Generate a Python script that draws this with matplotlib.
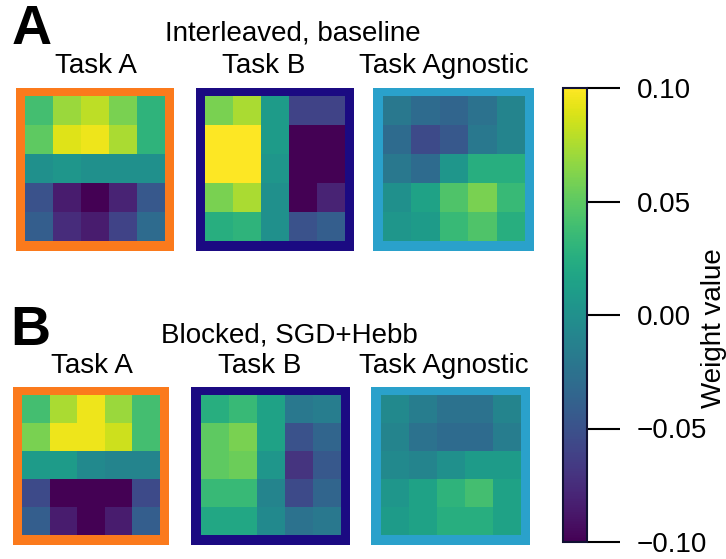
import numpy as np
import matplotlib
matplotlib.use("Agg")
import matplotlib.pyplot as plt

plt.rcParams["font.family"] = ["Liberation Sans", "DejaVu Sans"]

# Weight maps (5x5)
interleaved_task_a = [
    [0.040, 0.070, 0.080, 0.060, 0.030],
    [0.050, 0.090, 0.095, 0.075, 0.030],
    [0.000, 0.005, 0.000, 0.000, 0.000],
    [-0.050, -0.085, -0.100, -0.080, -0.045],
    [-0.040, -0.075, -0.085, -0.060, -0.030],
]
interleaved_task_b = [
    [0.060, 0.075, 0.010, -0.060, -0.060],
    [0.100, 0.100, 0.010, -0.100, -0.100],
    [0.100, 0.100, 0.005, -0.100, -0.100],
    [0.060, 0.075, 0.000, -0.100, -0.080],
    [0.025, 0.030, 0.000, -0.050, -0.040],
]
interleaved_agnostic = [
    [-0.020, -0.030, -0.035, -0.025, -0.010],
    [-0.030, -0.055, -0.045, -0.020, -0.010],
    [-0.020, -0.030, 0.005, 0.025, 0.025],
    [0.000, 0.015, 0.045, 0.060, 0.035],
    [0.005, 0.010, 0.035, 0.045, 0.025],
]
blocked_task_a = [
    [0.040, 0.075, 0.095, 0.070, 0.040],
    [0.060, 0.095, 0.095, 0.085, 0.040],
    [0.010, 0.010, -0.005, -0.010, -0.010],
    [-0.055, -0.100, -0.100, -0.100, -0.055],
    [-0.040, -0.085, -0.100, -0.085, -0.040],
]
blocked_task_b = [
    [0.025, 0.035, 0.015, -0.020, -0.015],
    [0.050, 0.060, 0.015, -0.050, -0.035],
    [0.050, 0.055, 0.005, -0.070, -0.045],
    [0.035, 0.035, -0.010, -0.055, -0.035],
    [0.020, 0.020, -0.005, -0.025, -0.020],
]
blocked_agnostic = [
    [-0.005, -0.015, -0.025, -0.025, -0.010],
    [-0.010, -0.025, -0.030, -0.030, -0.015],
    [-0.005, -0.010, 0.000, 0.010, 0.010],
    [0.005, 0.015, 0.030, 0.040, 0.015],
    [0.010, 0.015, 0.025, 0.025, 0.015],
]

panel_titles = ["Task A", "Task B", "Task Agnostic"]
row_titles = ["Interleaved, baseline", "Blocked, SGD+Hebb"]
row_letters = ["A", "B"]
cbar_ticks = [-0.10, -0.05, 0.00, 0.05, 0.10]

border_colors = ["#fb7a1c", "#1b0a82", "#2aa1cb"]

W, H = 726, 559
fig = plt.figure(figsize=(W / 100, H / 100), dpi=100)


def px_axes(x0, y0, x1, y1):
    return fig.add_axes([x0 / W, 1 - y1 / H, (x1 - x0) / W, (y1 - y0) / H])


def draw_map(box, data, color, border=9.5):
    x0, y0, x1, y1 = box
    ax = px_axes(x0, y0, x1, y1)
    n = len(data)
    mx = border / ((x1 - x0 - 2 * border) / n)
    my = border / ((y1 - y0 - 2 * border) / n)
    im = ax.imshow(np.array(data), cmap="viridis", vmin=-0.1, vmax=0.1,
                   extent=[-0.5, n - 0.5, n - 0.5, -0.5], aspect="auto")
    ax.set_xlim(-0.5 - mx, n - 0.5 + mx)
    ax.set_ylim(n - 0.5 + my, -0.5 - my)
    ax.set_facecolor(color)
    for s in ax.spines.values():
        s.set_visible(False)
    ax.set_xticks([])
    ax.set_yticks([])
    return im


# box positions in pixels (left, top, right, bottom)
top_boxes = [(15.5, 87.5, 174, 251), (195.6, 87.5, 354, 251), (373, 87.5, 534, 251)]
bottom_boxes = [(12.7, 386.5, 169, 545), (191, 386.5, 349.5, 545), (371, 386.5, 530, 545)]

top_data = [interleaved_task_a, interleaved_task_b, interleaved_agnostic]
bottom_data = [blocked_task_a, blocked_task_b, blocked_agnostic]

for box, d, c in zip(top_boxes, top_data, border_colors):
    im = draw_map(box, d, c)
for box, d, c in zip(bottom_boxes, bottom_data, border_colors):
    draw_map(box, d, c)

# text
fs = 20
def ftext(x, y, s, **kw):
    fig.text(x / W, 1 - y / H, s, ha="center", va="center", **kw)

ftext(32, 30, row_letters[0], fontsize=40, fontweight="bold")
ftext(30, 331, row_letters[1], fontsize=40, fontweight="bold")
ftext(293, 33, row_titles[0], fontsize=fs)
ftext(289, 336, row_titles[1], fontsize=fs)

top_title_x = [96, 264, 444]
bottom_title_x = [92, 260, 444]
for x, t in zip(top_title_x, panel_titles):
    ftext(x, 66, t, fontsize=fs)
for x, t in zip(bottom_title_x, panel_titles):
    ftext(x, 366, t, fontsize=fs)

# colorbar
cax = px_axes(563, 88, 587, 542)
cb = fig.colorbar(im, cax=cax, ticks=cbar_ticks)
cb.outline.set_linewidth(1.5)
cb.outline.set_edgecolor("#111133")
cax.tick_params(length=24, width=1.5, labelsize=fs, pad=12)
cax.set_yticklabels(["\u22120.10", "\u22120.05", "0.00", "0.05", "0.10"])
fig.text(714 / W, 1 - 328 / H, "Weight value", rotation=90,
         ha="center", va="center", fontsize=fs)

fig.savefig("out.png", dpi=100)
